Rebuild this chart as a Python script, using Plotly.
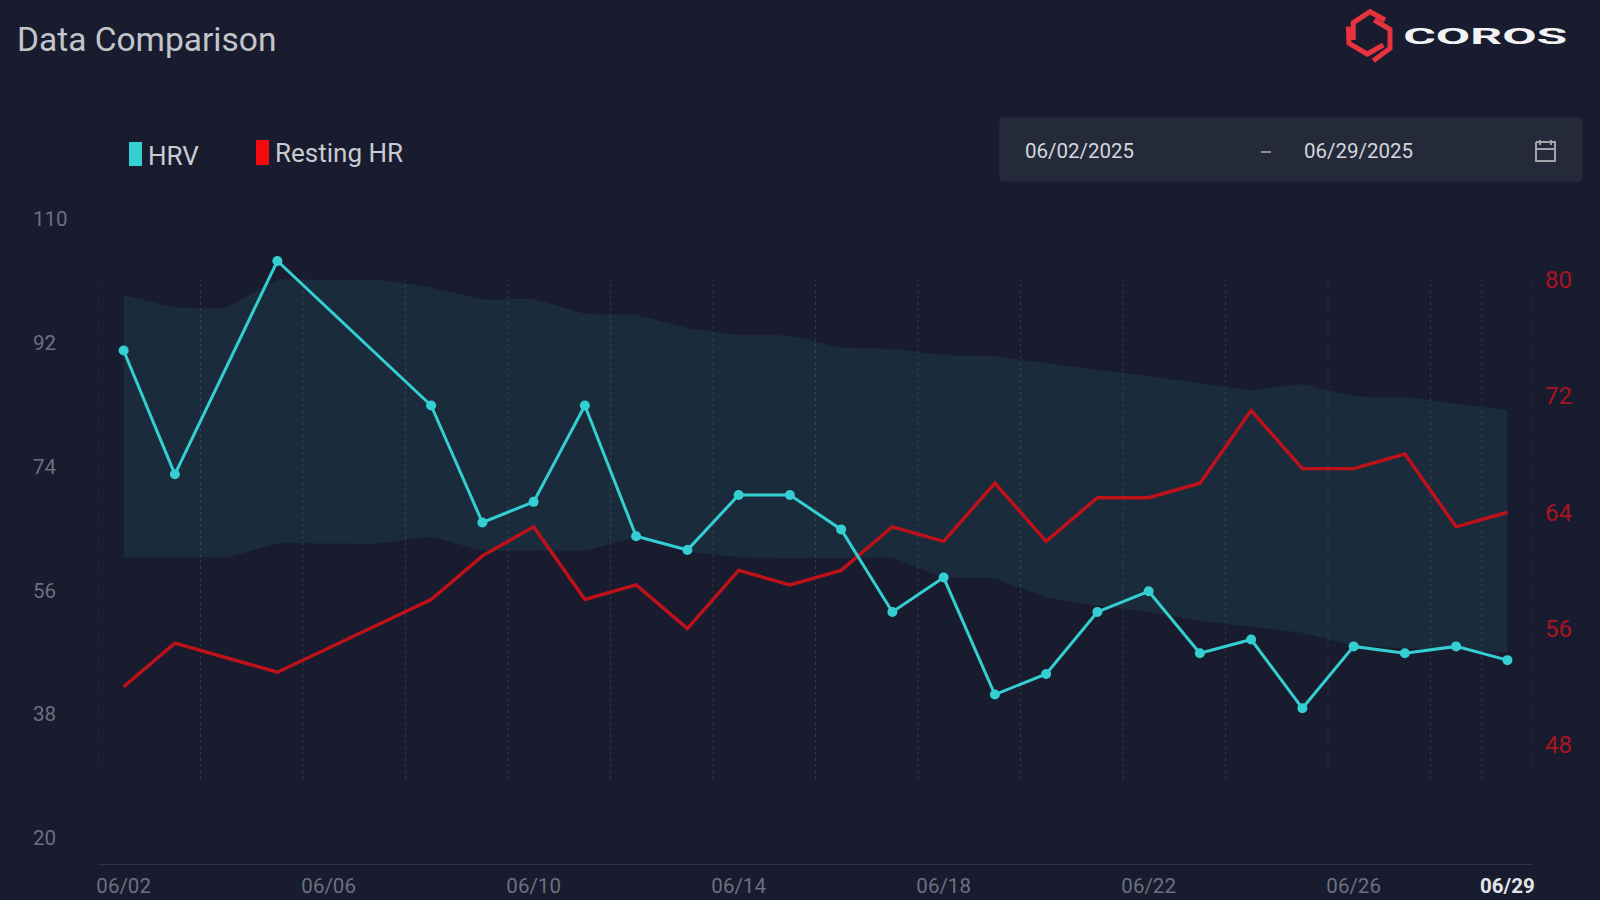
import plotly.graph_objects as go

W, H = 1600, 900

dates = ["06/%02d" % d for d in range(2, 30)]

hrv = [91, 73, None, 104, None, None, 83, 66, 69, 83, 64, 62, 70, 70,
       65, 53, 58, 41, 44, 53, 56, 47, 49, 39, 48, 47, 48, 46]
resting_hr = [52, 55, None, 53, None, None, 58, 61, 63, 58, 59, 56, 60, 59,
              60, 63, 62, 66, 62, 65, 65, 66, 71, 67, 67, 68, 63, 64]
baseline_upper = [98.9, 97.1, 97.1, 101.1, 101.1, 101.1, 100.0, 98.3, 98.3, 96.2,
                  96.0, 94.1, 93.1, 93.0, 91.3, 91.1, 90.2, 90.0, 89.0, 88.0,
                  87.1, 86.1, 85.1, 85.9, 84.2, 84.1, 83.1, 82.2]
baseline_lower = [60.8, 60.8, 60.8, 62.8, 62.8, 62.8, 63.7, 61.8, 61.8, 61.8,
                  63.6, 61.7, 60.8, 60.7, 60.7, 60.7, 57.9, 57.7, 55.0, 53.8,
                  52.9, 51.6, 50.7, 49.8, 48.0, 47.6, 47.3, 47.0]

hrv_ticks = [20, 38, 56, 74, 92, 110]
hr_ticks = [48, 56, 64, 72, 80]
date_ticks = ["06/02", "06/06", "06/10", "06/14", "06/18", "06/22", "06/26", "06/29"]
grid_slots = [0, 2, 4, 6, 8, 10, 12, 14, 16, 18, 20, 22, 24, 26, 27, 28]

BG = "#181c2e"
TEAL = "#34cfd3"
RED = "#bf1119"
FONT = "Roboto"


def px(x):
    return x / W


def py(y):
    return 1 - y / H


def polyline(points, **style):
    d = "M" + " L".join(f"{px(x):.5f},{py(y):.5f}" for x, y in points)
    return dict(type="path", xref="paper", yref="paper", path=d, **style)


def label(text, x, y, size, color, anchor="left", weight=None):
    return dict(text=text, xref="paper", yref="paper", x=px(x), y=py(y), xanchor=anchor,
                yanchor="middle", showarrow=False,
                font=dict(family=FONT, size=size, color=color, weight=weight))


fig = go.Figure()

# Baseline band on the HRV scale
fig.add_trace(go.Scatter(x=dates, y=baseline_upper, mode="lines", yaxis="y",
                         line=dict(width=0, shape="spline", smoothing=0.35),
                         hoverinfo="skip", showlegend=False))
fig.add_trace(go.Scatter(x=dates, y=baseline_lower, mode="lines", yaxis="y",
                         line=dict(width=0, shape="spline", smoothing=0.35),
                         fill="tonexty", fillcolor="rgba(50,210,215,0.09)",
                         hoverinfo="skip", showlegend=False))

fig.add_trace(go.Scatter(x=dates, y=resting_hr, name="Resting HR", mode="lines", yaxis="y2",
                         connectgaps=True, line=dict(color=RED, width=3.4)))
fig.add_trace(go.Scatter(x=dates, y=hrv, name="HRV", mode="lines+markers", yaxis="y3",
                         connectgaps=True, line=dict(color=TEAL, width=3),
                         marker=dict(color=TEAL, size=10)))

shapes = []

# Dotted vertical guides, stretching from the top of the heart-rate scale
for slot in grid_slots:
    shapes.append(dict(type="line", xref="x", yref="y2", x0=slot - 0.5, x1=slot - 0.5,
                       y0=45.65, y1=80, layer="below",
                       line=dict(color="rgba(125,140,155,0.24)", width=1, dash="3px,3px")))

# Legend swatches
shapes.append(dict(type="rect", xref="paper", yref="paper", x0=px(129), x1=px(142),
                   y0=py(166), y1=py(142), fillcolor=TEAL, line_width=0))
shapes.append(dict(type="rect", xref="paper", yref="paper", x0=px(256), x1=px(269),
                   y0=py(165), y1=py(140), fillcolor="#f20a0f", line_width=0))

# Date range box
x0, x1, y0, y1 = 1000, 1582, 118, 181
r = 3
box = (f"M{px(x0 + r)},{py(y0)} L{px(x1 - r)},{py(y0)} Q{px(x1)},{py(y0)} {px(x1)},{py(y0 + r)} "
       f"L{px(x1)},{py(y1 - r)} Q{px(x1)},{py(y1)} {px(x1 - r)},{py(y1)} "
       f"L{px(x0 + r)},{py(y1)} Q{px(x0)},{py(y1)} {px(x0)},{py(y1 - r)} "
       f"L{px(x0)},{py(y0 + r)} Q{px(x0)},{py(y0)} {px(x0 + r)},{py(y0)} Z")
shapes.append(dict(type="path", xref="paper", yref="paper", path=box,
                   fillcolor="#252a3b", line=dict(color="#282d3e", width=1), layer="below"))
shapes.append(polyline([(1261, 152), (1271, 152)], line=dict(color="#8a8d98", width=2)))

# Calendar icon
icon = dict(color="#a2a4ab", width=2)
shapes.append(polyline([(1536, 142), (1555, 142), (1555, 161), (1536, 161), (1536, 142)], line=icon))
shapes.append(polyline([(1536, 149), (1555, 149)], line=icon))
shapes.append(polyline([(1540, 140), (1540, 145)], line=icon))
shapes.append(polyline([(1551, 140), (1551, 145)], line=icon))

# Brand mark
mark = dict(color="#e8323e", width=5)
shapes.append(polyline([(1353.3, 40), (1353.3, 22.7), (1370, 11.7), (1385, 20)], line=mark))
shapes.append(polyline([(1374.3, 20), (1390, 29.3), (1390, 48.3), (1373.3, 60.7)], line=mark))
shapes.append(polyline([(1348.3, 26.7), (1349, 43.3), (1367.3, 54), (1383.3, 45)], line=mark))

annotations = [
    label("Data Comparison", 15, 39.5, 33.5, "#c4c5cb"),
    label("HRV", 146, 156, 26, "#c9cad0"),
    label("Resting HR", 273, 153, 26, "#c9cad0"),
    label("06/02/2025", 1023, 151, 20.5, "#d4d6db"),
    label("06/29/2025", 1302, 151, 20.5, "#d4d6db"),
    label("COROS", 1485, 37, 22, "#f2f2f4", anchor="center", weight=700),
]

tick_text = list(date_ticks)
tick_text[-1] = f'<b><span style="color:#e4e5ea">{date_ticks[-1]}</span></b>'

# Axis ranges for the band and left labels, the heart-rate line and the HRV line
band_range = [16.235, 115.245]
hr_range = [39.81, 86.67]
hrv_range = [16.38, 115.39]
plot_top, plot_bottom = 182.6, 864

fig.update_layout(
    width=W, height=H, autosize=False,
    paper_bgcolor=BG, plot_bgcolor=BG,
    margin=dict(l=0, r=0, t=0, b=0, pad=0, autoexpand=False),
    showlegend=False,
    shapes=shapes, annotations=annotations,
    font=dict(family=FONT),
    xaxis=dict(type="category", categoryorder="array", categoryarray=dates,
               domain=[px(98), px(1533)], range=[-0.5, 27.5],
               showgrid=False, zeroline=False, showline=True, linecolor="#2f3548", linewidth=1,
               tickmode="array", tickvals=date_ticks, ticktext=tick_text, ticks="",
               ticklabelstandoff=3, tickangle=0,
               tickfont=dict(family=FONT, size=20.5, color="#6d7080")),
    yaxis=dict(domain=[py(plot_bottom), py(plot_top)], range=band_range,
               anchor="free", position=px(29), side="left", ticklabelposition="inside",
               showgrid=False, zeroline=False, showline=False, ticks="",
               tickmode="array", tickvals=hrv_ticks,
               tickfont=dict(family=FONT, size=20.5, color="#6d7080")),
    yaxis2=dict(domain=[py(plot_bottom), py(plot_top)], range=hr_range,
                overlaying="y", anchor="x", side="right",
                showgrid=False, zeroline=False, showline=False, ticks="",
                ticklabelstandoff=11, tickmode="array", tickvals=hr_ticks,
                tickfont=dict(family=FONT, size=24, color="#a81420")),
    yaxis3=dict(domain=[py(plot_bottom), py(plot_top)], range=hrv_range,
                overlaying="y", anchor="x", visible=False),
)

# Widen the wordmark to its logo proportions
widen_wordmark = """
document.querySelectorAll('.annotation-text').forEach(function (t) {
  if (t.textContent === 'COROS') {
    t.setAttribute('textLength', '164');
    t.setAttribute('lengthAdjust', 'spacingAndGlyphs');
  }
});
"""

fig.write_html("out.html", post_script=widen_wordmark, config=dict(displayModeBar=False))
